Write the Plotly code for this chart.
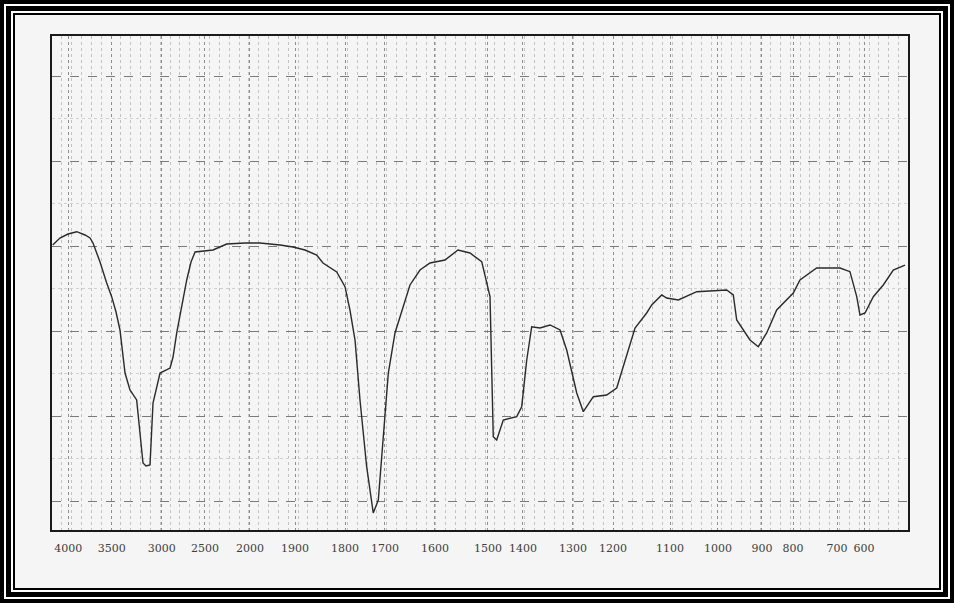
import plotly.graph_objects as go

# Axis tick labels (wavenumber, cm-1) and their positions along the chart (percent of axis width)
tick_labels = ["4000", "3500", "3000", "2500", "2000", "1900", "1800", "1700", "1600",
               "1500", "1400", "1300", "1200", "1100", "1000", "900", "800", "700", "600"]
tick_pos = [1.90, 6.97, 12.82, 17.87, 23.13, 28.39, 34.23, 38.90, 44.74,
            50.93, 55.02, 60.86, 65.54, 72.20, 77.80, 82.94, 86.57, 91.71, 94.86]

# Spectrum trace: chart position (percent of width) and transmittance (%)
pos = [0.08, 0.93, 1.87, 2.89, 3.86, 4.44, 4.79, 5.61, 6.39, 6.97, 7.48, 7.94, 8.53, 9.11,
       9.89, 10.28, 10.63, 10.98, 11.45, 11.80, 12.62, 13.79, 14.14, 14.57, 15.15, 15.74,
       16.24, 16.71, 18.81, 20.41, 22.55, 24.30, 26.64, 28.15, 29.56, 30.92, 31.66, 33.26,
       34.23, 34.81, 35.40, 35.98, 36.76, 37.53, 38.12, 38.70, 39.29, 40.07, 41.00, 41.82,
       42.99, 44.16, 45.91, 47.43, 48.83, 50.20, 51.17, 51.36, 51.55, 51.95, 52.72, 54.29,
       54.87, 55.46, 56.04, 57.01, 58.18, 59.35, 60.13, 61.30, 62.07, 63.24, 64.80, 65.97,
       66.74, 67.52, 68.11, 69.47, 70.06, 71.23, 71.81, 73.17, 75.32, 78.82, 79.59, 79.99,
       80.76, 81.54, 82.51, 83.49, 84.66, 86.60, 87.38, 89.33, 92.06, 93.22, 94.01, 94.39,
       94.98, 95.95, 97.11, 98.28, 99.65]
transmittance = [57.69, 59.11, 59.92, 60.38, 59.72, 59.11, 58.10, 54.25, 50.00, 47.23, 44.13,
                 40.49, 31.78, 28.34, 26.32, 19.64, 13.56, 12.96, 13.16, 25.71, 31.78, 32.79,
                 35.02, 39.88, 45.14, 50.61, 54.25, 56.28, 56.68, 57.89, 58.10, 58.10, 57.69,
                 57.29, 56.68, 55.67, 54.05, 52.23, 49.25, 44.53, 38.46, 26.32, 12.81, 3.44,
                 6.07, 19.64, 31.78, 39.88, 45.14, 49.60, 52.63, 54.05, 54.66, 56.68, 56.07,
                 54.31, 47.23, 29.01, 18.89, 18.22, 22.27, 22.94, 24.96, 34.41, 41.15, 40.89,
                 41.50, 40.49, 36.44, 27.73, 23.95, 26.98, 27.33, 28.74, 33.06, 37.85, 40.89,
                 43.93, 45.55, 47.57, 46.96, 46.56, 48.24, 48.58, 47.57, 42.51, 40.49, 38.46,
                 37.11, 39.88, 44.53, 47.98, 50.61, 53.04, 53.04, 52.29, 47.23, 43.52, 43.93,
                 47.23, 49.60, 52.63, 53.64]

W, H = 954, 603
ML, MR, MT, MB = 52, 46, 36, 73
PW, PH = W - ML - MR, H - MT - MB


def px_x(p):
    return (p - ML) / PW


def px_y(p):
    return (H - MB - p) / PH


fig = go.Figure()
fig.add_trace(go.Scatter(
    x=pos, y=transmittance, mode="lines",
    line=dict(color="#2a2a2a", width=1.4),
    hoverinfo="skip", showlegend=False,
))

# decorative double black frame around the page
shapes = []
layers = [(0, "#000000"), (4, "#ffffff"), (6, "#000000"), (11, "#ffffff"), (13, "#000000"), (15, "#f5f5f5")]
for inset, col in layers:
    shapes.append(dict(
        type="rect", xref="paper", yref="paper", layer="below",
        x0=px_x(inset), x1=px_x(W - inset), y0=px_y(H - inset), y1=px_y(inset),
        fillcolor=col, line=dict(width=0),
    ))

fig.update_layout(
    width=W, height=H, autosize=False,
    margin=dict(l=ML, r=MR, t=MT, b=MB),
    paper_bgcolor="#f5f5f5",
    plot_bgcolor="rgba(0,0,0,0)",
    shapes=shapes,
    font=dict(family="DejaVu Serif", color="#404040", size=11),
    xaxis=dict(
        range=[0, 100], tickmode="array", tickvals=tick_pos, ticktext=tick_labels,
        showgrid=True, gridcolor="#8e8e8e", gridwidth=1, griddash="dot",
        minor=dict(dtick=1.15, tick0=0, showgrid=True, gridcolor="#c2c2c2", gridwidth=1, griddash="dot"),
        showline=True, linecolor="#1a1a1a", linewidth=1.8, mirror=True,
        ticks="", ticklabelstandoff=7, zeroline=False, fixedrange=True,
        tickfont=dict(family="DejaVu Serif", size=11, color="#404040"),
    ),
    yaxis=dict(
        range=[0, 100], tick0=5.87, dtick=17.2, showticklabels=False,
        showgrid=True, gridcolor="#7a7a7a", gridwidth=1, griddash="dash",
        minor=dict(dtick=8.6, tick0=5.87, showgrid=True, gridcolor="#d0d0d0", gridwidth=1, griddash="dot"),
        showline=True, linecolor="#1a1a1a", linewidth=1.8, mirror=True,
        ticks="", zeroline=False, fixedrange=True,
    ),
)

fig.write_html(
    "out.html",
    config={"displayModeBar": False},
    post_script="document.body.style.margin='0';document.body.style.overflow='hidden';",
)
